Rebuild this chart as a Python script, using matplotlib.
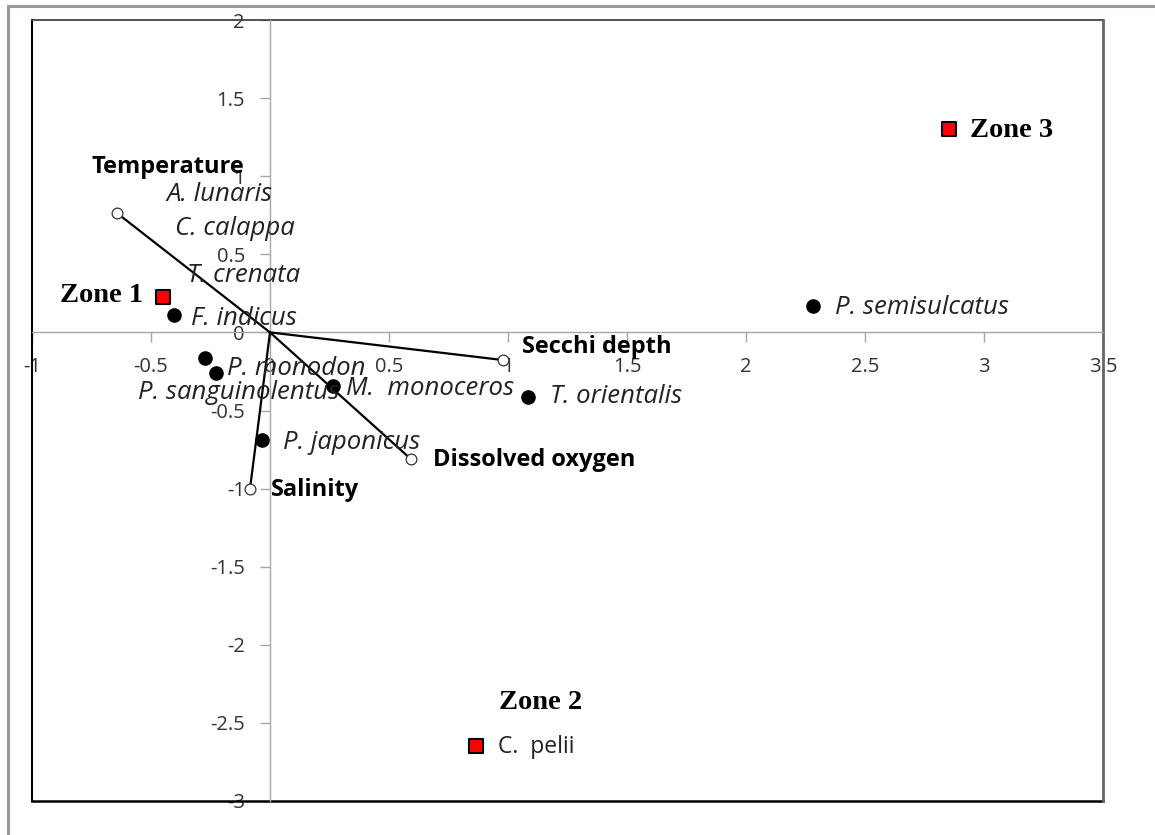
import matplotlib
matplotlib.use("Agg")
import matplotlib.pyplot as plt
from matplotlib.patches import Rectangle

# ===== DATA =====
env_names = ['Temperature', 'Secchi depth', 'Dissolved oxygen', 'Salinity']
env_x = [-0.643, 0.979, 0.592, -0.084]
env_y = [0.764, -0.177, -0.811, -1.0]

species_names = ['F. indicus', 'P. monodon', 'P. sanguinolentus', 'M.  monoceros',
                 'T. orientalis', 'P. japonicus', 'P. semisulcatus']
species_x = [-0.403, -0.273, -0.227, 0.265, 1.084, -0.034, 2.282]
species_y = [0.111, -0.164, -0.260, -0.343, -0.413, -0.689, 0.169]

# species shown only as a label (no marker in the original)
label_only_names = ['A. lunaris', 'C. calappa', 'T. crenata']
label_only_x = [-0.433, -0.399, -0.349]
label_only_y = [0.880, 0.662, 0.367]

zone_names = ['Zone 1', 'Zone 2', 'Zone 3']
zone_x = [-0.450, 0.866, 2.853]
zone_y = [0.227, -2.647, 1.302]

x_ticks = [-1, -0.5, 0, 0.5, 1, 1.5, 2, 2.5, 3, 3.5]
y_ticks = [-3, -2.5, -2, -1.5, -1, -0.5, 0, 0.5, 1, 1.5, 2]

# label offsets in pixels (dx, dy, ha)
env_offsets = [(-25, 46, 'left'), (19, 13, 'left'), (22, -1, 'left'), (21, -1, 'left')]
species_offsets = [(17, -3, 'left'), (22, -10, 'left'), (-78, -19, 'left'), (13, -3, 'left'),
                   (22, 0, 'left'), (21, -2, 'left'), (22, -1, 'left')]

SANS = 'Open Sans'
SERIF = 'Liberation Serif'

fig = plt.figure(figsize=(11.55, 8.35), dpi=100)
W, H = 1155, 835
ax = fig.add_axes([32 / W, (H - 801) / H, (1103 - 32) / W, (801 - 20) / H])
ax.set_xlim(-1, 3.5)
ax.set_ylim(-3, 2)

# axes through the origin
for s in ['left', 'bottom']:
    ax.spines[s].set_position('zero')
    ax.spines[s].set_color('#a6a6a6')
    ax.spines[s].set_linewidth(1.0)
for s in ['top', 'right']:
    ax.spines[s].set_visible(False)

ax.set_xticks(x_ticks)
ax.set_yticks(y_ticks)
ax.set_xticklabels([f'{t:g}' for t in x_ticks])
ax.set_yticklabels([f'{t:g}' for t in y_ticks])
ax.tick_params(axis='both', direction='out', length=7, width=1, color='#a6a6a6',
               labelsize=14.5, labelcolor='#333333')
ax.tick_params(axis='x', pad=11)
ax.tick_params(axis='y', pad=11)
for lab in ax.get_xticklabels() + ax.get_yticklabels():
    lab.set_fontfamily(SANS)

# plot-area frame
ax.plot([0, 0], [0, 1], color='black', lw=1.5, transform=ax.transAxes, clip_on=False)
ax.plot([0, 1], [0, 0], color='black', lw=1.8, transform=ax.transAxes, clip_on=False)
ax.plot([0, 1], [1, 1], color='#444444', lw=1.3, transform=ax.transAxes, clip_on=False)
ax.plot([1, 1], [0, 1], color='#666666', lw=2.0, transform=ax.transAxes, clip_on=False)

# environmental vectors
for x, y in zip(env_x, env_y):
    ax.plot([0, x], [0, y], color='black', lw=1.6, zorder=3)
ax.scatter(env_x, env_y, s=60, facecolors='white', edgecolors='#333333', linewidths=0.9, zorder=4)
for name, x, y, (dx, dy, ha) in zip(env_names, env_x, env_y, env_offsets):
    ax.annotate(name, (x, y), xytext=(dx, dy), textcoords='offset pixels', ha=ha, va='center',
                fontsize=17, fontweight='bold', family=SANS, color='black', zorder=5)

# species
ax.scatter(species_x, species_y, s=90, color='black', zorder=4)
for name, x, y, (dx, dy, ha) in zip(species_names, species_x, species_y, species_offsets):
    ax.annotate(name, (x, y), xytext=(dx, dy), textcoords='offset pixels', ha=ha, va='center',
                fontsize=18.5, style='italic', family=SANS, color='#222222', zorder=5)
for name, x, y in zip(label_only_names, label_only_x, label_only_y):
    ax.text(x, y, name, ha='left', va='center', fontsize=18.5, style='italic', family=SANS,
            color='#222222', zorder=5)

# zones
ax.scatter(zone_x, zone_y, s=90, marker='s', facecolors='red', edgecolors='black',
           linewidths=1.5, zorder=4)
ax.annotate(zone_names[0], (zone_x[0], zone_y[0]), xytext=(-20, 1), textcoords='offset pixels',
            ha='right', va='center', fontsize=20.5, fontweight='bold', family=SERIF)
ax.annotate(zone_names[1], (zone_x[1], zone_y[1]), xytext=(23, 43), textcoords='offset pixels',
            ha='left', va='center', fontsize=20.5, fontweight='bold', family=SERIF)
ax.annotate('C.  pelii', (zone_x[1], zone_y[1]), xytext=(22, -1), textcoords='offset pixels',
            ha='left', va='center', fontsize=16.5, family=SANS, color='#222222')
ax.annotate(zone_names[2], (zone_x[2], zone_y[2]), xytext=(21, -1), textcoords='offset pixels',
            ha='left', va='center', fontsize=20.5, fontweight='bold', family=SERIF)

# outer chart border (only top/left visible in the original)
fig.patches.append(Rectangle((8 / W, -0.1), 1.2, 1 - 6 / H + 0.1, transform=fig.transFigure,
                             fill=False, edgecolor='#999999', lw=2.2))

fig.savefig('out.png', dpi=100)
